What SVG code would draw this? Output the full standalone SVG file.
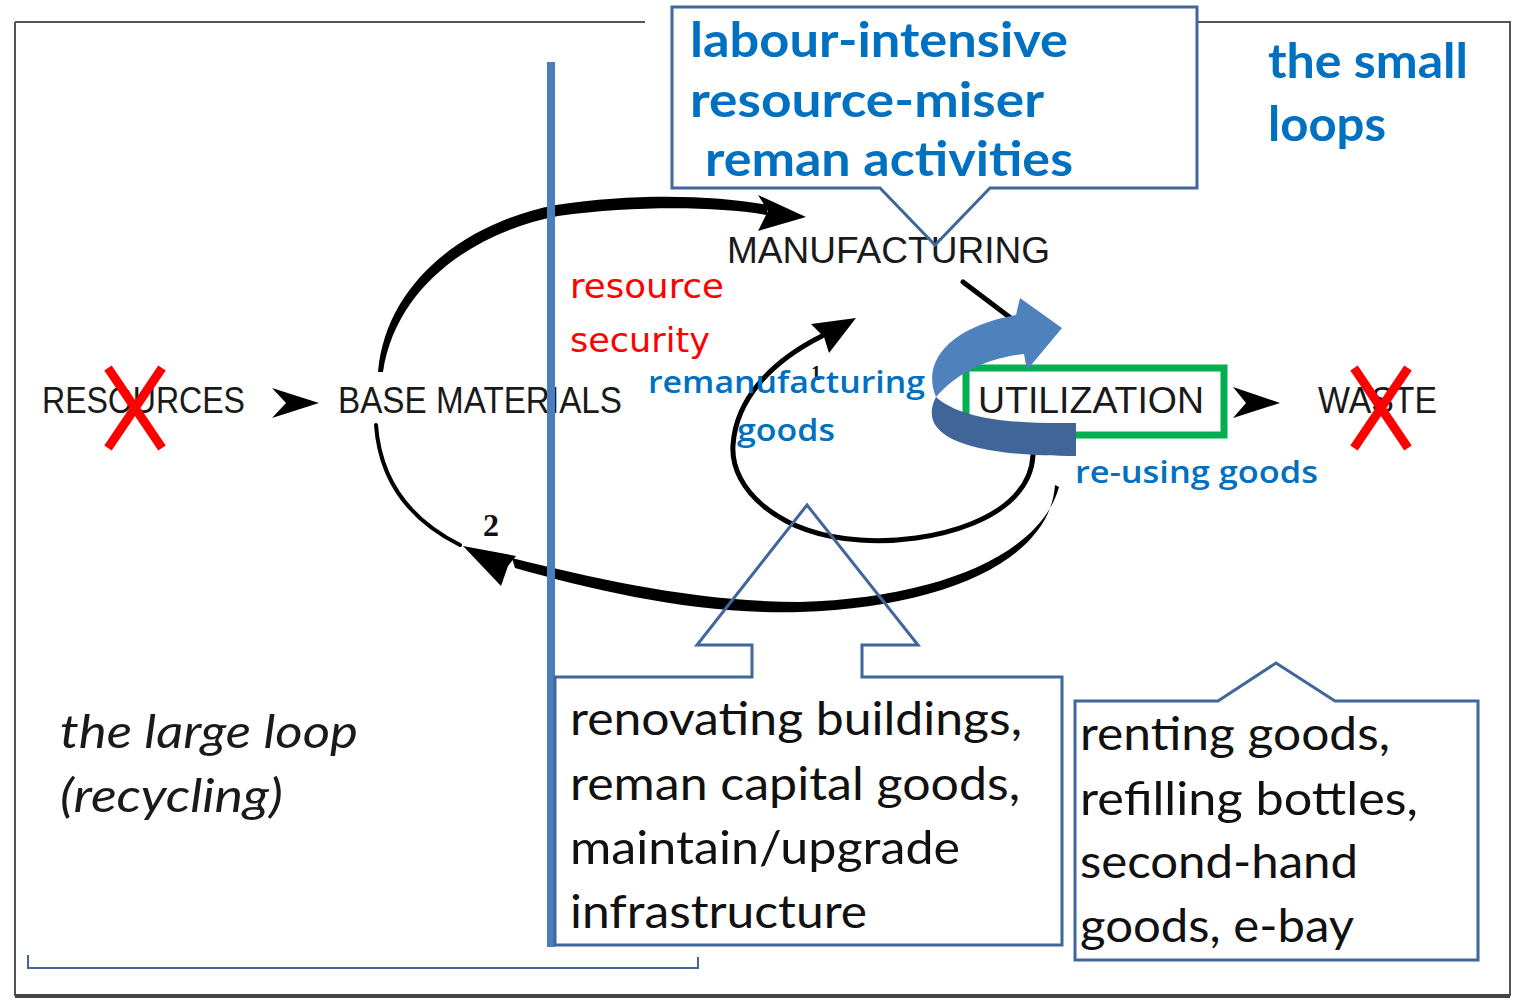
<svg xmlns="http://www.w3.org/2000/svg" width="1535" height="1000" viewBox="0 0 1535 1000">
<defs>
<style>
.frame{stroke:#555;stroke-width:2;fill:none}
.callout{fill:none;stroke:#41669a;stroke-width:3}
.stage{font-family:"Liberation Sans",Arial,sans-serif;font-size:36px;fill:#1a1a1a}
.blueb{font-family:Lato,"Liberation Sans",sans-serif;font-weight:bold;font-size:48px;fill:#0070c0}
.red{font-family:"DejaVu Sans",sans-serif;font-size:34px;fill:#ff0000}
.bluem{font-family:"Open Sans","DejaVu Sans",sans-serif;font-weight:600;font-size:31px;fill:#0070c0}
.body{font-family:Lato,"Liberation Sans",sans-serif;font-size:46px;fill:#111}
.ital{font-family:Lato,"Liberation Sans",sans-serif;font-style:italic;font-size:46px;fill:#1a1a1a}
.cross{stroke:#ff0000;stroke-width:9;fill:none}
.blk{fill:#000}
.bline{fill:none;stroke:#000;stroke-linecap:round}
</style>
</defs>
<rect width="1535" height="1000" fill="#fff"/>
<g id="frame">
<path class="frame" d="M15,22 H645 M15,22 V996 M1197,22 H1510 V996"/>
<line x1="15" y1="996" x2="1510" y2="996" stroke="#444" stroke-width="4"/>
<path d="M28,955 V968 H698 V957" fill="none" stroke="#41669a" stroke-width="2"/>
</g>
<g id="connectors">
<path class="blk" d="M378,372 C386,282 466,222 556,205 C640,192 720,196 768,205 L767,215 C720,207 640,205 558,216 C474,232 396,286 383,372 Z"/>
<polygon class="blk" points="806,217 758,195 768,211 758,231"/>
<path class="bline" stroke-width="4" d="M376,425 C380,480 410,520 460,545"/>
<path class="blk" d="M1055,485 C1050,560 945,607 800,612 C700,615 600,592 515,568 L512,558 C600,580 700,602 800,602 C935,598 1040,556 1059,487 Z"/>
<polygon class="blk" points="463,546 516,556 508,566 501,586"/>
<path class="bline" stroke-width="5" d="M1033,455 C1030,520 930,545 860,540 C780,535 730,490 733,445 C736,400 770,362 822,336"/>
<polygon class="blk" points="856,318 811,324 824,337 829,353"/>
<path class="bline" stroke-width="5" d="M963,282 L1016,322"/>
<polygon class="blk" points="272,388 319,403 272,418 286,403"/>
<polygon class="blk" points="1233,387 1280,403 1233,418 1246,403"/>
</g>
<g id="resources">
<text class="stage" x="42" y="413" textLength="203" lengthAdjust="spacingAndGlyphs">RESOURCES</text>
<path class="cross" d="M108,368 L162,448 M162,368 L108,448"/>
</g>
<g id="base-materials">
<text class="stage" x="338" y="413" textLength="284" lengthAdjust="spacingAndGlyphs">BASE MATERIALS</text>
</g>
<g id="manufacturing">
<text class="stage" x="727" y="263" textLength="323" lengthAdjust="spacingAndGlyphs">MANUFACTURING</text>
</g>
<g id="utilization">
<rect x="966" y="368" width="258" height="67" fill="none" stroke="#00b050" stroke-width="7"/>
<text class="stage" x="978" y="413" textLength="226" lengthAdjust="spacingAndGlyphs">UTILIZATION</text>
</g>
<g id="waste">
<text class="stage" x="1318" y="413" textLength="119" lengthAdjust="spacingAndGlyphs">WASTE</text>
<path class="cross" d="M1354,368 L1408,448 M1408,368 L1354,448"/>
</g>
<g id="labels">
<text x="483" y="536" font-family="'Liberation Serif',serif" font-weight="bold" font-size="32" fill="#111">2</text>
<text x="811" y="380" font-family="'Liberation Serif',serif" font-weight="bold" font-size="20" fill="#111">1</text>
<text class="red" x="570" y="298" textLength="154" lengthAdjust="spacingAndGlyphs">resource</text>
<text class="red" x="570" y="352" textLength="140" lengthAdjust="spacingAndGlyphs">security</text>
<text class="bluem" x="648" y="393" textLength="277" lengthAdjust="spacingAndGlyphs">remanufacturing</text>
<text class="bluem" x="737" y="441" textLength="98" lengthAdjust="spacingAndGlyphs">goods</text>
<text class="bluem" x="1075" y="483" textLength="243" lengthAdjust="spacingAndGlyphs">re-using goods</text>
<text class="ital" x="60" y="748" textLength="298" lengthAdjust="spacingAndGlyphs">the large loop</text>
<text class="ital" x="60" y="812" textLength="223" lengthAdjust="spacingAndGlyphs">(recycling)</text>
<text class="blueb" x="1268" y="78" font-size="46" textLength="200" lengthAdjust="spacingAndGlyphs">the small</text>
<text class="blueb" x="1268" y="141" font-size="46" textLength="118" lengthAdjust="spacingAndGlyphs">loops</text>
</g>
<g id="reuse-arrow">
<path fill="#4f81bd" d="M936,397 C920,358 955,326 1016,315 L1020,298 L1062,328 L1027,370 L1024,354 C985,358 955,375 936,397 Z"/>
<path fill="#3f6599" d="M936,397 C918,432 955,456 1076,456 L1076,423 C1005,424 960,418 936,397 Z"/>
</g>
<g id="divider">
<rect x="547" y="62" width="8" height="885" fill="#4a7ebb"/>
</g>
<g id="callout-top">
<path fill="#fff" class="callout" d="M672,7 H1197 V188 H990 L935,245 L880,188 H672 Z"/>
<text class="blueb" x="690" y="57" textLength="378" lengthAdjust="spacingAndGlyphs">labour-intensive</text>
<text class="blueb" x="690" y="117" textLength="354" lengthAdjust="spacingAndGlyphs">resource-miser</text>
<text class="blueb" x="705" y="176" textLength="368" lengthAdjust="spacingAndGlyphs">reman activities</text>
</g>
<g id="callout-capital">
<path class="callout" d="M555,677 H752 V645 H697 L807,505 L918,645 H862 V677 H1062 V945 H555 Z"/>
<text class="body" x="570" y="735" textLength="452" lengthAdjust="spacingAndGlyphs">renovating buildings,</text>
<text class="body" x="570" y="800" textLength="450" lengthAdjust="spacingAndGlyphs">reman capital goods,</text>
<text class="body" x="570" y="864" textLength="390" lengthAdjust="spacingAndGlyphs">maintain/upgrade</text>
<text class="body" x="570" y="928" textLength="297" lengthAdjust="spacingAndGlyphs">infrastructure</text>
</g>
<g id="callout-consumer">
<path class="callout" d="M1075,701 H1218 L1276,663 L1335,701 H1478 V960 H1075 Z"/>
<text class="body" x="1080" y="750" textLength="310" lengthAdjust="spacingAndGlyphs">renting goods,</text>
<text class="body" x="1080" y="815" textLength="338" lengthAdjust="spacingAndGlyphs">refilling bottles,</text>
<text class="body" x="1080" y="878" textLength="278" lengthAdjust="spacingAndGlyphs">second-hand</text>
<text class="body" x="1080" y="942" textLength="274" lengthAdjust="spacingAndGlyphs">goods, e-bay</text>
</g>
</svg>
